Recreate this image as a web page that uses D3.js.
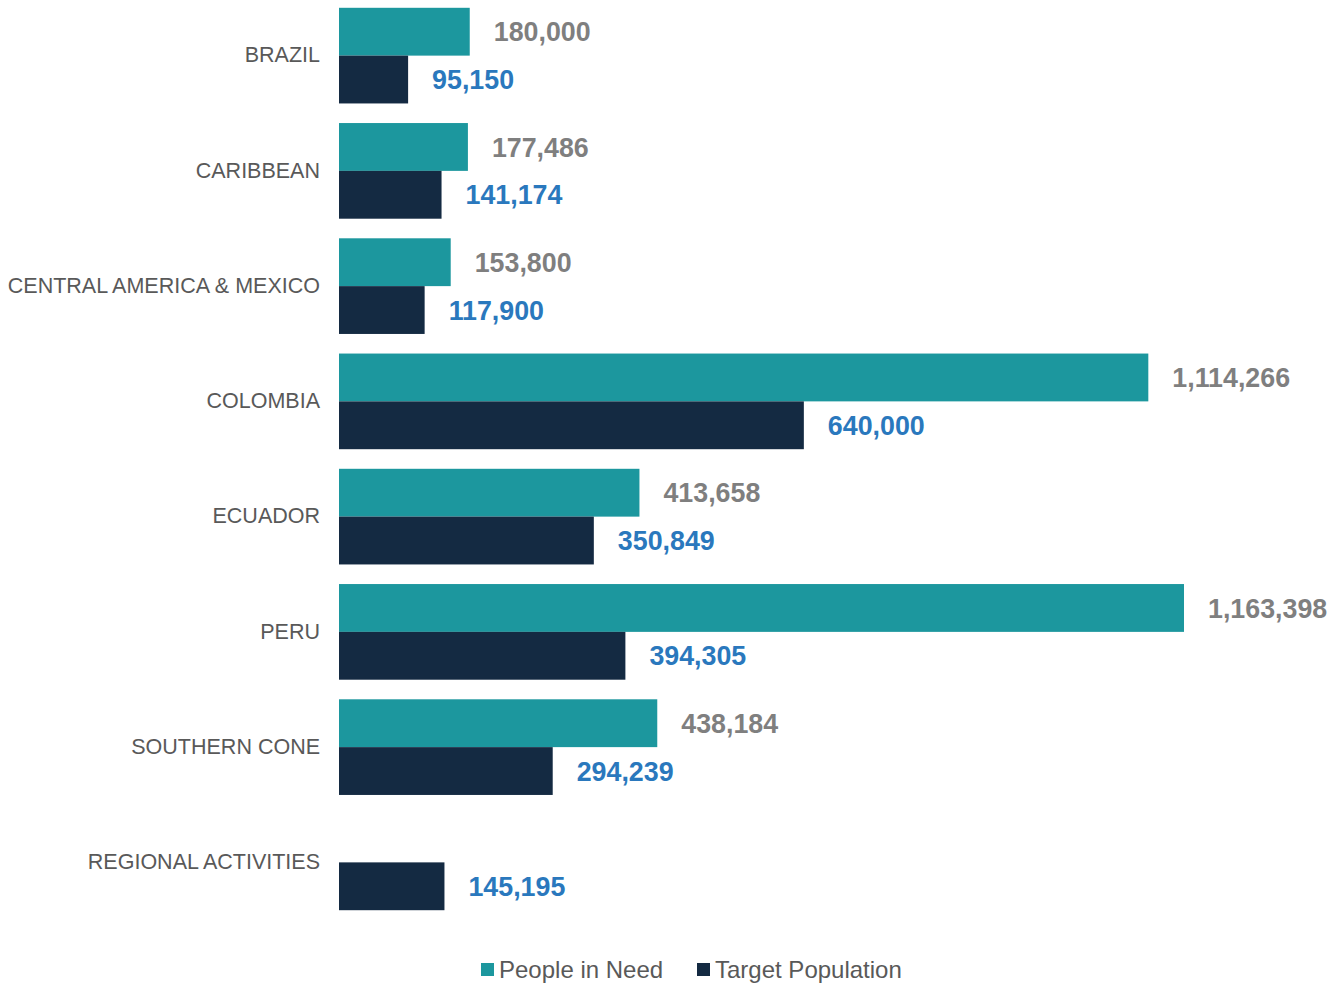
<!DOCTYPE html>
<html>
<head>
<meta charset="utf-8">
<script src="https://cdn.jsdelivr.net/npm/d3@7"></script>
<style>
  html, body { margin: 0; padding: 0; background: #ffffff; }
  svg { display: block; font-family: "Liberation Sans", Arial, sans-serif; }
</style>
</head>
<body>
<svg id="chart" width="1343" height="984"></svg>
<script>
const categories = ["BRAZIL", "CARIBBEAN", "CENTRAL AMERICA & MEXICO", "COLOMBIA", "ECUADOR", "PERU", "SOUTHERN CONE", "REGIONAL ACTIVITIES"];
const peopleInNeed = [180000, 177486, 153800, 1114266, 413658, 1163398, 438184, 0];
const targetPopulation = [95150, 141174, 117900, 640000, 350849, 394305, 294239, 145195];
const seriesNames = ["People in Need", "Target Population"];
const seriesColors = ["#1c979e", "#142a42"];
const labelColors = ["#7f7f7f", "#2a78bd"];

const svg = d3.select("#chart");
const x0 = 339;
const x = d3.scaleLinear().domain([0, 1163398]).range([x0, 1184]);
const y = d3.scaleBand().domain(categories).range([-2, 920]).paddingInner(0.17).paddingOuter(0.085);
const ySub = d3.scaleBand().domain([0, 1]).range([0, y.bandwidth()]);
const fmt = d3.format(",");

const rows = categories.map((c, i) => ({ cat: c, vals: [peopleInNeed[i], targetPopulation[i]] }));

const g = svg.selectAll("g.cat").data(rows).join("g")
  .attr("class", "cat")
  .attr("transform", d => `translate(0,${y(d.cat)})`);

g.each(function(d) {
  const sel = d3.select(this);
  d.vals.forEach((v, s) => {
    if (!v) return;
    sel.append("rect")
      .attr("x", x(0))
      .attr("y", ySub(s))
      .attr("width", x(v) - x(0))
      .attr("height", ySub.bandwidth())
      .attr("fill", seriesColors[s]);
    sel.append("text")
      .attr("x", x(v) + 24)
      .attr("y", ySub(s) + ySub.bandwidth() / 2)
      .attr("dy", "0.36em")
      .attr("font-size", 26.8)
      .attr("font-weight", "bold")
      .attr("fill", labelColors[s])
      .text(fmt(v));
  });
});

// category axis labels
svg.append("g").selectAll("text").data(categories).join("text")
  .attr("x", 320)
  .attr("y", d => y(d) + y.bandwidth() / 2)
  .attr("dy", "0.31em")
  .attr("text-anchor", "end")
  .attr("font-size", 21.5)
  .attr("fill", "#595959")
  .text(d => d);

// legend
const legendItems = [{ x: 481 }, { x: 697 }];
const lg = svg.append("g").selectAll("g").data(seriesNames).join("g")
  .attr("transform", (d, i) => `translate(${legendItems[i].x},963)`);
lg.append("rect").attr("width", 13).attr("height", 13).attr("fill", (d, i) => seriesColors[i]);
lg.append("text")
  .attr("x", 18).attr("y", 6.5).attr("dy", "0.36em")
  .attr("font-size", 24).attr("fill", "#595959")
  .text(d => d);
</script>
</body>
</html>
